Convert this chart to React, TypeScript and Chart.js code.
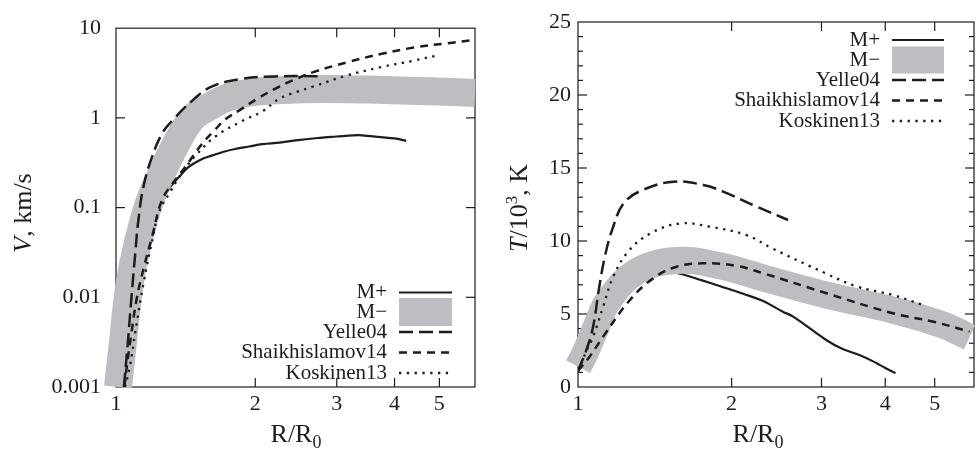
import React, { useEffect, useRef } from 'react';
import { Chart, registerables } from 'chart.js';

Chart.register(...registerables);

const FONT = "'Liberation Serif'";
const INK = '#1c1c1c';
const BAND = '#bdbec2';

// ---------- shared x axis (R/R0, log) ----------
const xTickValues = [1, 2, 3, 4, 5];
const xTickLabels = ['1', '2', '3', '4', '5'];
const X_MIN = 1;
const X_MAX = 5.97;

const legendLabels = ['M+', 'M\u2212', 'Yelle04', 'Shaikhislamov14', 'Koskinen13'];

// ---------- left panel: V, km/s (log) ----------
const vTickValues = [0.001, 0.01, 0.1, 1, 10];
const vTickLabels = ['0.001', '0.01', '0.1', '1', '10'];

const vMplusR = [1.215, 1.235, 1.27, 1.32, 1.38, 1.434, 1.52, 1.611, 1.71, 1.81, 1.94, 2.07, 2.26, 2.5, 2.76, 3.0, 3.26, 3.4, 3.73, 4.0, 4.24];
const vMplusV = [0.085, 0.097, 0.135, 0.178, 0.23, 0.283, 0.34, 0.38, 0.42, 0.45, 0.48, 0.51, 0.53, 0.57, 0.6, 0.62, 0.64, 0.64, 0.61, 0.59, 0.555];

const vMminusR = [1.01, 1.034, 1.063, 1.1, 1.17, 1.245, 1.348, 1.464, 1.6, 1.75, 2.0, 2.3, 2.8, 3.5, 4.5, 5.97];
const vMminusV = [0.001, 0.003, 0.011, 0.03, 0.1, 0.22, 0.51, 1.0, 1.35, 1.7, 1.95, 2.05, 2.1, 2.07, 2.0, 1.9];

const vYelleR = [1.04, 1.06, 1.08, 1.1, 1.117, 1.146, 1.195, 1.26, 1.34, 1.46, 1.6, 1.85, 2.2, 2.75];
const vYelleV = [0.001, 0.003, 0.01, 0.03, 0.07, 0.17, 0.36, 0.68, 1.0, 1.55, 2.2, 2.7, 2.9, 2.92];

const vShaikR = [1.042, 1.06, 1.08, 1.11, 1.15, 1.2, 1.256, 1.33, 1.411, 1.533, 1.63, 1.72, 1.855, 2.03, 2.26, 2.46, 2.67, 3.16, 3.73, 4.4, 5.2, 5.97];
const vShaikV = [0.001, 0.002, 0.004, 0.01, 0.022, 0.05, 0.12, 0.19, 0.283, 0.51, 0.72, 0.956, 1.23, 1.66, 2.25, 2.74, 3.24, 4.17, 5.15, 6.08, 6.8, 7.4];

const vKoskR = [1.046, 1.072, 1.1, 1.146, 1.2, 1.24, 1.31, 1.4, 1.5, 1.64, 1.87, 2.07, 2.26, 2.46, 2.67, 3.16, 3.73, 4.4, 4.91];
const vKoskV = [0.001, 0.0017, 0.004, 0.014, 0.045, 0.09, 0.15, 0.26, 0.4, 0.62, 0.92, 1.18, 1.65, 1.95, 2.24, 2.98, 3.67, 4.35, 4.93];

// ---------- right panel: T/10^3, K (linear) ----------
const tTickValues = [0, 1, 2, 3, 4, 5, 6, 7, 8, 9, 10, 11, 12, 13, 14, 15, 16, 17, 18, 19, 20, 21, 22, 23, 24, 25];
const tLabelledTicks = [0, 5, 10, 15, 20, 25];

const tMplusR = [1.0, 1.05, 1.1, 1.15, 1.22, 1.3, 1.4, 1.5, 1.6, 1.75, 1.9, 2.1, 2.3, 2.52, 2.64, 3.07, 3.3, 3.56, 3.84, 4.0, 4.19];
const tMplusT = [1.1, 2.6, 4.4, 5.6, 6.7, 7.4, 7.8, 7.9, 7.72, 7.3, 6.9, 6.4, 5.9, 5.16, 4.82, 3.2, 2.6, 2.19, 1.65, 1.3, 0.95];

const tMminusR = [1.0, 1.032, 1.088, 1.146, 1.303, 1.56, 1.896, 2.34, 3.07, 4.14, 5.19, 5.85];
const tMminusT = [1.4, 2.3, 4.2, 5.9, 7.9, 8.66, 8.3, 7.4, 6.3, 5.27, 4.25, 3.4];

const tYelleR = [1.0, 1.04, 1.07, 1.1, 1.13, 1.17, 1.23, 1.34, 1.54, 1.76, 1.92, 2.24, 2.58];
const tYelleT = [1.1, 2.6, 4.1, 6.8, 9.0, 10.9, 12.6, 13.5, 14.06, 13.84, 13.4, 12.35, 11.44];

const tShaikR = [1.0, 1.05, 1.12, 1.264, 1.404, 1.56, 1.76, 2.04, 2.3, 3.07, 4.14, 5.0, 5.85];
const tShaikT = [1.1, 2.0, 3.45, 5.96, 7.44, 8.24, 8.47, 8.3, 7.8, 6.42, 5.05, 4.45, 3.79];

const tKoskR = [1.0, 1.04, 1.071, 1.12, 1.172, 1.254, 1.383, 1.583, 1.812, 2.14, 2.4, 3.05, 3.51, 4.14, 4.74];
const tKoskT = [1.1, 2.5, 3.45, 5.5, 7.55, 9.27, 10.5, 11.2, 10.98, 10.4, 9.5, 7.8, 6.9, 6.3, 5.62];

// ---------- styles ----------
type Style = { width: number; dash: number[]; band?: boolean; order: number };
const styles: Record<string, Style> = {
  'M+': { width: 2.2, dash: [], order: 2 },
  'M\u2212': { width: 28, dash: [], band: true, order: 1 },
  'Yelle04': { width: 2.5, dash: [14, 6], order: 0 },
  'Shaikhislamov14': { width: 2.5, dash: [8, 6], order: 0 },
  'Koskinen13': { width: 2.3, dash: [2.3, 5.5], order: 0 },
};

function pts(xs: number[], ys: number[]) {
  return xs.map((x, i) => ({ x, y: ys[i] }));
}

function makeDataset(label: string, xs: number[], ys: number[], bandWidth: number) {
  const st = styles[label];
  return {
    label,
    data: pts(xs, ys),
    borderColor: st.band ? BAND : INK,
    backgroundColor: 'transparent',
    borderWidth: st.band ? bandWidth : st.width,
    borderDash: st.dash,
    borderCapStyle: 'butt',
    borderJoinStyle: 'round',
    pointRadius: 0,
    fill: false,
    tension: 0.4,
    clip: st.band ? false : undefined,
    order: st.order,
  };
}

// ---------- plugins ----------
function framePlugin(isLog: boolean) {
  return {
    id: 'frame',
    beforeDatasetsDraw(chart: any) {
      const { ctx, chartArea: a, scales } = chart;
      ctx.save();
      ctx.strokeStyle = INK;
      ctx.lineWidth = 1.2;
      ctx.strokeRect(a.left, a.top, a.right - a.left, a.bottom - a.top);
      const seg = (x1: number, y1: number, x2: number, y2: number) => {
        ctx.beginPath();
        ctx.moveTo(x1, y1);
        ctx.lineTo(x2, y2);
        ctx.stroke();
      };
      const xs = scales.x;
      xs.ticks.forEach((t: any) => {
        const px = xs.getPixelForValue(t.value);
        if (px <= a.left + 1 || px >= a.right - 1) return;
        seg(px, a.bottom, px, a.bottom - 9);
        seg(px, a.top, px, a.top + 9);
      });
      const ys = scales.y;
      ys.ticks.forEach((t: any) => {
        const py = ys.getPixelForValue(t.value);
        if (py <= a.top + 1 || py >= a.bottom - 1) return;
        const major = isLog || tLabelledTicks.includes(t.value);
        const len = major ? 9 : 5;
        seg(a.left, py, a.left + len, py);
        seg(a.right, py, a.right - len, py);
      });
      ctx.restore();
    },
  };
}

type Part = { text: string; italic?: boolean; size?: number; dy?: number };
function drawParts(ctx: CanvasRenderingContext2D, parts: Part[], cx: number, cy: number, rot: boolean) {
  ctx.save();
  ctx.translate(cx, cy);
  if (rot) ctx.rotate(-Math.PI / 2);
  const fonts = parts.map((p) => `${p.italic ? 'italic ' : ''}${p.size ?? 26}px ${FONT}`);
  let total = 0;
  const widths = parts.map((p, i) => {
    ctx.font = fonts[i];
    const w = ctx.measureText(p.text).width;
    total += w;
    return w;
  });
  let x = -total / 2;
  ctx.textAlign = 'left';
  ctx.textBaseline = 'alphabetic';
  ctx.fillStyle = INK;
  parts.forEach((p, i) => {
    ctx.font = fonts[i];
    ctx.fillText(p.text, x, p.dy ?? 0);
    x += widths[i];
  });
  ctx.restore();
}

type Deco = {
  legend: { textRight: number; x0: number; x1: number; rows: number[]; rectTop: number; rectH: number };
  yTitle: { parts: Part[]; x: number; y: number };
  xTitle: { x: number; y: number };
};

function decoPlugin(d: Deco) {
  return {
    id: 'deco',
    afterDraw(chart: any) {
      const ctx: CanvasRenderingContext2D = chart.ctx;
      const L = d.legend;
      ctx.save();
      legendLabels.forEach((lab, i) => {
        const y = L.rows[i];
        ctx.font = `21px ${FONT}`;
        ctx.textAlign = 'right';
        ctx.textBaseline = 'middle';
        ctx.fillStyle = INK;
        ctx.fillText(lab, L.textRight, y);
        const st = styles[lab];
        if (st.band) {
          ctx.fillStyle = BAND;
          ctx.fillRect(L.x0, L.rectTop, L.x1 - L.x0, L.rectH);
        } else {
          ctx.beginPath();
          ctx.setLineDash(st.dash);
          ctx.lineWidth = st.width;
          ctx.strokeStyle = INK;
          ctx.lineCap = 'butt';
          ctx.moveTo(L.x0, y);
          ctx.lineTo(L.x1, y);
          ctx.stroke();
          ctx.setLineDash([]);
        }
      });
      ctx.restore();
      drawParts(ctx, d.yTitle.parts, d.yTitle.x, d.yTitle.y, true);
      drawParts(
        ctx,
        [
          { text: 'R/R' },
          { text: '0', size: 18, dy: 6 },
        ],
        d.xTitle.x,
        d.xTitle.y,
        false
      );
    },
  };
}

function xScale(height: number) {
  return {
    type: 'logarithmic',
    min: X_MIN,
    max: X_MAX,
    bounds: 'data',
    afterBuildTicks: (s: any) => {
      s.ticks = xTickValues.map((v) => ({ value: v }));
    },
    afterFit: (s: any) => {
      s.height = height;
    },
    ticks: {
      autoSkip: false,
      maxRotation: 0,
      padding: 4,
      color: INK,
      font: { family: FONT, size: 22 },
      callback: (_v: any, i: number) => xTickLabels[i],
    },
    grid: { display: false, drawTicks: false },
    border: { display: false },
  };
}

function buildLeft(canvas: HTMLCanvasElement) {
  return new Chart(canvas, {
    type: 'line',
    data: {
      datasets: [
        makeDataset('M+', vMplusR, vMplusV, 28),
        makeDataset('Yelle04', vYelleR, vYelleV, 28),
        makeDataset('Shaikhislamov14', vShaikR, vShaikV, 28),
        makeDataset('Koskinen13', vKoskR, vKoskV, 28),
        makeDataset('M\u2212', vMminusR, vMminusV, 28),
      ] as any,
    },
    options: {
      animation: false,
      responsive: false,
      maintainAspectRatio: false,
      events: [],
      layout: { padding: { top: 22, right: 15, left: 0, bottom: 0 } },
      plugins: { legend: { display: false }, tooltip: { enabled: false } },
      scales: {
        x: xScale(62),
        y: {
          type: 'logarithmic',
          min: 0.001,
          max: 10,
          bounds: 'data',
          afterBuildTicks: (s: any) => {
            s.ticks = vTickValues.map((v) => ({ value: v }));
          },
          afterFit: (s: any) => {
            s.width = 116;
          },
          ticks: {
            autoSkip: false,
            padding: 15,
            color: INK,
            font: { family: FONT, size: 22 },
            callback: (_v: any, i: number) => vTickLabels[i],
          },
          grid: { display: false, drawTicks: false },
          border: { display: false },
        },
      } as any,
    },
    plugins: [
      framePlugin(true),
      decoPlugin({
        legend: { textRight: 387, x0: 399, x1: 452, rows: [292.5, 312.5, 332, 352.5, 373], rectTop: 298, rectH: 28 },
        yTitle: { parts: [{ text: 'V', italic: true }, { text: ', km/s' }], x: 31, y: 213 },
        xTitle: { x: 296, y: 441.5 },
      }),
    ],
  } as any);
}

function buildRight(canvas: HTMLCanvasElement) {
  return new Chart(canvas, {
    type: 'line',
    data: {
      datasets: [
        makeDataset('M+', tMplusR, tMplusT, 27),
        makeDataset('Yelle04', tYelleR, tYelleT, 27),
        makeDataset('Shaikhislamov14', tShaikR, tShaikT, 27),
        makeDataset('Koskinen13', tKoskR, tKoskT, 27),
        makeDataset('M\u2212', tMminusR, tMminusT, 27),
      ] as any,
    },
    options: {
      animation: false,
      responsive: false,
      maintainAspectRatio: false,
      events: [],
      layout: { padding: { top: 22, right: 3, left: 0, bottom: 0 } },
      plugins: { legend: { display: false }, tooltip: { enabled: false } },
      scales: {
        x: xScale(62),
        y: {
          type: 'linear',
          min: 0,
          max: 25,
          bounds: 'data',
          afterBuildTicks: (s: any) => {
            s.ticks = tTickValues.map((v) => ({ value: v }));
          },
          afterFit: (s: any) => {
            s.width = 88;
          },
          ticks: {
            autoSkip: false,
            padding: 7,
            color: INK,
            font: { family: FONT, size: 22 },
            callback: (v: any) => (tLabelledTicks.includes(v) ? String(v) : ''),
          },
          grid: { display: false, drawTicks: false },
          border: { display: false },
        },
      } as any,
    },
    plugins: [
      framePlugin(false),
      decoPlugin({
        legend: { textRight: 390, x0: 402, x1: 454, rows: [40, 60, 80, 100.5, 121], rectTop: 46.5, rectH: 27 },
        yTitle: {
          parts: [
            { text: 'T', italic: true },
            { text: '/10' },
            { text: '3', size: 17, dy: -10 },
            { text: ', K' },
          ],
          x: 36.5,
          y: 208,
        },
        xTitle: { x: 268, y: 441.5 },
      }),
    ],
  } as any);
}

export default function App() {
  const leftRef = useRef<HTMLCanvasElement>(null);
  const rightRef = useRef<HTMLCanvasElement>(null);

  useEffect(() => {
    const a = buildLeft(leftRef.current!);
    const b = buildRight(rightRef.current!);
    return () => {
      a.destroy();
      b.destroy();
    };
  }, []);

  return (
    <div style={{ position: 'fixed', left: 0, top: 0, width: 977, height: 449, background: '#fff', overflow: 'hidden' }}>
      <canvas
        ref={leftRef}
        width={490}
        height={449}
        style={{ position: 'absolute', left: 0, top: 0, width: 490, height: 449 }}
      />
      <canvas
        ref={rightRef}
        width={487}
        height={449}
        style={{ position: 'absolute', left: 490, top: 0, width: 487, height: 449 }}
      />
    </div>
  );
}
